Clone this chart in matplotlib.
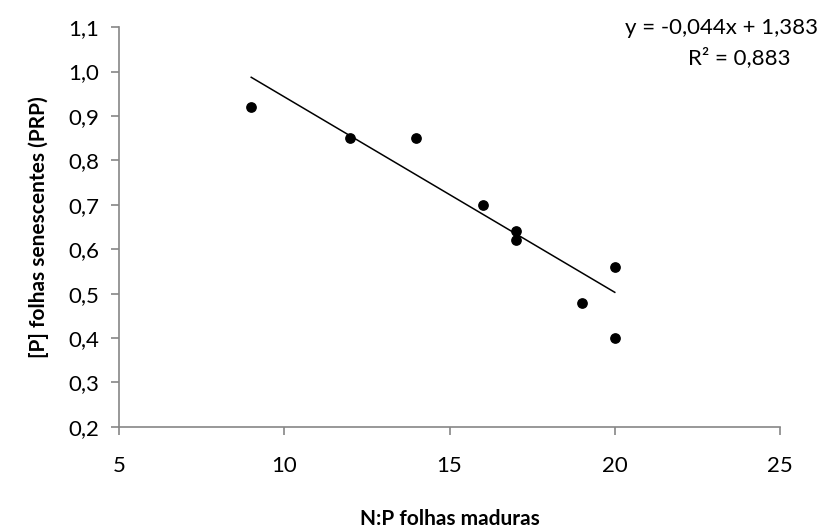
import matplotlib
matplotlib.use('Agg')
import matplotlib.pyplot as plt
import numpy as np

# razao N:P nas folhas maduras vs [P] nas folhas senescentes
np_ratio = [9, 12, 14, 16, 17, 17, 19, 20, 20]
p_senesc = [0.92, 0.85, 0.85, 0.70, 0.64, 0.62, 0.48, 0.56, 0.40]

# linha de tendencia linear
slope = -0.044
intercept = 1.383
r2 = 0.883

x_ticks = [5, 10, 15, 20, 25]
y_ticks = [0.2, 0.3, 0.4, 0.5, 0.6, 0.7, 0.8, 0.9, 1.0, 1.1]

plt.rcParams['font.family'] = ['Lato', 'DejaVu Sans']
grey = '#868686'

fig = plt.figure(figsize=(8.3, 5.31), dpi=100)
ax = fig.add_axes([0.1434, 0.196, 0.7964, 0.753])

ax.scatter(np_ratio, p_senesc, s=45, color='black', zorder=3)
xl = np.array([min(np_ratio), max(np_ratio)])
ax.plot(xl, slope * xl + intercept, color='black', lw=1.1)

ax.set_xlim(5, 25)
ax.set_ylim(0.2, 1.1)
ax.set_xticks(x_ticks)
ax.set_yticks(y_ticks)
ax.set_xticklabels([str(t) for t in x_ticks])
ax.set_yticklabels([('%.1f' % t).replace('.', ',') for t in y_ticks])

for side in ['top', 'right']:
    ax.spines[side].set_visible(False)
for side in ['left', 'bottom']:
    ax.spines[side].set_color(grey)
    ax.spines[side].set_linewidth(1.2)
ax.tick_params(axis='both', direction='out', length=6, width=1.2, color=grey,
               labelsize=16, labelcolor='black')
ax.tick_params(axis='x', pad=15)
ax.tick_params(axis='y', pad=8)

ax.set_xlabel('N:P folhas maduras', fontsize=15, fontweight='bold', labelpad=24)
ax.set_ylabel('[P] folhas senescentes (PRP)', fontsize=15, fontweight='bold', labelpad=14)

eq = 'y = %sx + %s' % (('%.3f' % slope).replace('.', ','), ('%.3f' % intercept).replace('.', ','))
fig.text(0.985, 0.947, eq, ha='right', va='center', fontsize=16)
fig.text(0.952, 0.891, 'R² = ' + ('%.3f' % r2).replace('.', ','), ha='right', va='center', fontsize=16)

fig.savefig('out.png', dpi=100)
